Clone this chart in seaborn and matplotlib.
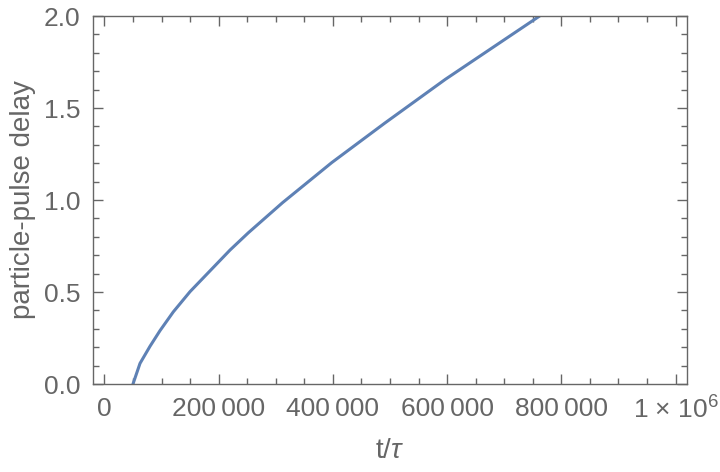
import matplotlib
matplotlib.use("Agg")
import numpy as np
import pandas as pd
import seaborn as sns
import matplotlib.pyplot as plt
from matplotlib.ticker import MultipleLocator, FixedLocator

# ==========================
# Data
# ==========================
t_over_tau = [50000, 62300, 79800, 97300, 120600, 149900, 184900, 219900,
              252000, 311700, 397900, 490900, 597000, 676600, 762000]
delay = [0.0, 0.112, 0.205, 0.290, 0.392, 0.502, 0.615, 0.728,
         0.822, 0.985, 1.203, 1.418, 1.656, 1.822, 2.0]

x_ticks = [0, 200000, 400000, 600000, 800000, 1000000]
x_tick_labels = ["0", "200\u2009000", "400\u2009000", "600\u2009000", "800\u2009000",
                 r"1 × 10$^{6}$"]
y_ticks = [0.0, 0.5, 1.0, 1.5, 2.0]

df = pd.DataFrame({"t": t_over_tau, "delay": delay})

# ==========================
# Style
# ==========================
sns.set_style("ticks")
plt.rcParams["font.family"] = ["Liberation Sans", "DejaVu Sans"]
plt.rcParams["mathtext.fontset"] = "custom"
plt.rcParams["mathtext.rm"] = "Liberation Sans"
plt.rcParams["mathtext.it"] = "Liberation Sans:italic"
gray = "#666666"

fig = plt.figure(figsize=(7.2, 4.72), dpi=100)
ax = fig.add_axes([93 / 720, 1 - 384 / 472, 594 / 720, 368 / 472])

sns.lineplot(data=df, x="t", y="delay", ax=ax, color="#5E81B5", linewidth=2.2)

ax.set_xlim(-20000, 1020000)
ax.set_ylim(0, 2.0)

ax.xaxis.set_major_locator(FixedLocator(x_ticks))
ax.set_xticklabels(x_tick_labels)
ax.xaxis.set_minor_locator(MultipleLocator(50000))
ax.yaxis.set_major_locator(FixedLocator(y_ticks))
ax.set_yticklabels([f"{v:.1f}" for v in y_ticks])
ax.yaxis.set_minor_locator(MultipleLocator(0.1))

ax.tick_params(which="both", direction="in", top=True, right=True,
               color=gray, width=1.0, labelcolor=gray, labelsize=19)
ax.tick_params(which="major", length=7, pad=9)
ax.tick_params(which="minor", length=4)

for sp in ax.spines.values():
    sp.set_color(gray)
    sp.set_linewidth(1.0)

ax.set_xlabel(r"t/$\tau$", fontsize=20, color=gray, labelpad=10)
ax.set_ylabel("particle-pulse delay", fontsize=20, color=gray, labelpad=6)

fig.savefig("out.png", dpi=100)
